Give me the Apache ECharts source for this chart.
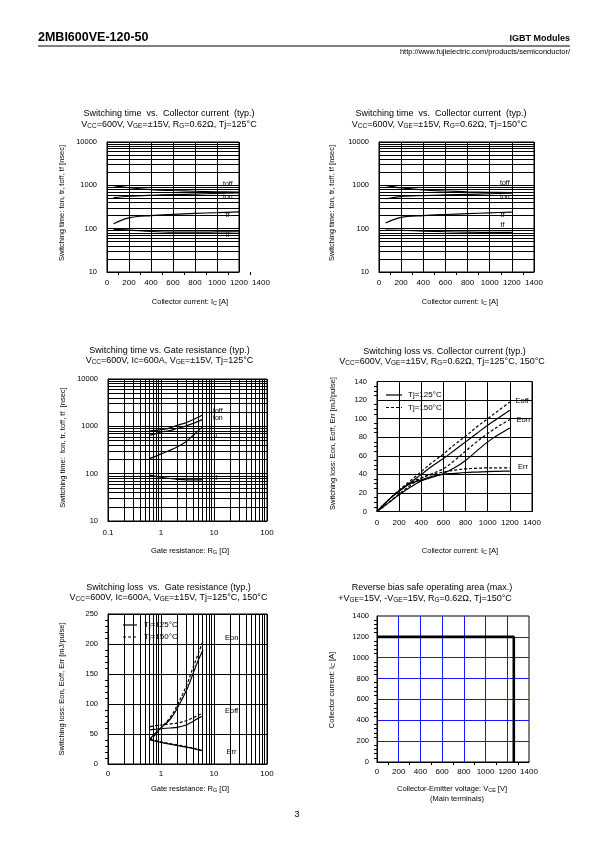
<!DOCTYPE html>
<html><head><meta charset="utf-8">
<script src="https://cdn.jsdelivr.net/npm/echarts@6/dist/echarts.min.js"></script>
<style>html,body{margin:0;padding:0;background:#fff}#c{width:595px;height:842px}</style>
</head><body><div id="c"></div>
<script>
// ---------- data ----------
// Switching time vs collector current
const icTime = [60, 200, 400, 600, 800, 1000, 1200];
const toff125 = [980, 880, 800, 760, 730, 710, 700];
const ton125 = [520, 560, 590, 610, 630, 650, 670];
const tr125 = [130, 178, 200, 214, 226, 234, 245];
const tf125 = [96, 93, 86, 83, 83, 84, 85];
const toff150 = [1000, 870, 780, 740, 710, 690, 680];
const ton150 = [490, 550, 580, 600, 620, 640, 660];
const tr150 = [135, 182, 200, 212, 222, 232, 242];
const tf150 = [93, 92, 88, 85, 83, 82, 82];
// Switching time vs gate resistance
const rgTime = [0.62, 0.8, 1, 1.5, 2, 3, 4, 5, 6.2];
const toffRg = [800, 820, 850, 930, 1050, 1200, 1380, 1550, 1750];
const tonRg = [650, 700, 760, 810, 900, 1020, 1150, 1270, 1400];
const trRg = [210, 235, 262, 315, 365, 480, 640, 800, 1000];
const tfRg = [93, 88, 84, 79, 76, 74, 74, 74, 75];
// Switching loss vs collector current
const icLoss = [0, 100, 200, 300, 400, 500, 600, 700, 800, 900, 1000, 1100, 1200];
const eoff125 = [0, 12, 22, 31, 40, 49, 57, 66, 75, 84, 93, 101, 109];
const eoff150 = [0, 12, 23, 33, 43, 53, 62, 72, 81, 91, 100, 109, 118];
const eon125 = [0, 9, 18, 26, 33, 37, 41, 47, 55, 65, 75, 83, 90];
const eon150 = [0, 9, 19, 28, 36, 41, 46, 55, 65, 75, 84, 92, 99];
const err125 = [0, 12, 22, 30, 34, 38, 40, 41, 42, 42.5, 43, 43.3, 43.5];
const err150 = [0, 12, 23, 31, 36, 40, 42.5, 44.5, 46, 46.5, 47, 47, 47];
// Switching loss vs gate resistance
const rgLoss = [0.62, 0.8, 1, 1.5, 2, 3, 4, 5, 6.2];
const eonRg125 = [42, 52, 60, 75, 92, 122, 150, 172, 190];
const eonRg150 = [40, 50, 60, 78, 97, 130, 160, 183, 205];
const eoffRg125 = [57, 58, 59, 60, 61, 65, 71, 76, 80];
const eoffRg150 = [62, 64, 65, 67, 68, 72, 77, 81, 85];
const errRg125 = [40, 38, 36, 33, 31, 28, 26, 24, 22];
const errRg150 = [41, 39, 37, 34, 32, 29, 26.5, 24, 22];
// RBSOA
const rbsoaV = [0, 1260, 1260];
const rbsoaI = [1200, 1200, 0];
// log minor grid values
const minorTime = [20,30,40,50,60,70,80,90,200,300,400,500,600,700,800,900,2000,3000,4000,5000,6000,7000,8000,9000];
const minorRg = [0.2,0.3,0.4,0.5,0.6,0.7,0.8,0.9,2,3,4,5,6,7,8,9,20,30,40,50,60,70,80,90];

// ---------- helpers ----------
const FONT = '"Liberation Sans", Arial, Helvetica, sans-serif';
const plain = v => String(v);
const pts = (xs, ys) => xs.map((x, i) => [x, ys[i]]);
function line(xi, xs, ys, dashed, extra) {
  return Object.assign({
    type: 'line', xAxisIndex: xi, yAxisIndex: xi, data: pts(xs, ys),
    showSymbol: false, symbol: 'none', smooth: 0.35, silent: true, animation: false,
    lineStyle: { color: '#000', width: 1.2, type: dashed ? [3, 2] : 'solid' }
  }, extra || {});
}
function minorLines(key, vals) {
  return { silent: true, symbol: 'none', animation: false, label: { show: false },
    lineStyle: { color: '#000', width: 1, type: 'solid' },
    data: vals.map(v => ({ [key]: v })) };
}
const subRich = (fs) => ({ s: { fontSize: fs * 0.72, fontFamily: FONT, fill: '#000', verticalAlign: 'bottom' } });
function txt(x, y, text, fs, opt) {
  opt = opt || {};
  return { type: 'text', x: x, y: y, rotation: opt.rot || 0, silent: true,
    style: { text: text, fontSize: fs, fontFamily: FONT, fontWeight: opt.bold ? 'bold' : 'normal',
      fill: '#000', align: opt.align || 'center', verticalAlign: 'middle', rich: subRich(fs) } };
}
function seg(x1, y1, x2, y2, dashed, w) {
  return { type: 'line', silent: true, shape: { x1, y1, x2, y2 },
    style: { stroke: '#000', lineWidth: w || 1, lineDash: dashed ? [3, 2] : null } };
}
const labelX = { fontSize: 8, fontFamily: FONT, color: '#000', formatter: plain };
const labelY = { fontSize: 7.5, fontFamily: FONT, color: '#000', formatter: plain };
const blackSplit = { show: true, lineStyle: { color: '#000', width: 1 } };
const axLine = { show: true, lineStyle: { color: '#000', width: 1 } };

function valX(gi, max, extra) {
  return Object.assign({ type: 'value', gridIndex: gi, min: 0, max: max, interval: 200,
    axisLine: axLine, axisTick: { show: false },
    axisLabel: Object.assign({}, labelX, { margin: 7 }), splitLine: blackSplit }, extra || {});
}
function logAx(gi, min, max, isX, extra) {
  return Object.assign({ type: 'log', logBase: 10, gridIndex: gi, min: min, max: max,
    axisLine: axLine, axisTick: { show: false },
    axisLabel: Object.assign({}, isX ? labelX : labelY, { margin: isX ? 7 : 10 }), splitLine: blackSplit }, extra || {});
}
const gridBox = { show: true, borderColor: '#000', borderWidth: 1, backgroundColor: 'transparent' };

const option = {
  animation: false,
  textStyle: { fontFamily: FONT },
  grid: [
    { left: 107, top: 142, width: 154, height: 130 },                 // 0 chart1 label axis
    Object.assign({ left: 107, top: 142, width: 132, height: 130 }, gridBox), // 1 chart1 box
    Object.assign({ left: 379, top: 142, width: 155, height: 130 }, gridBox), // 2 chart2
    Object.assign({ left: 108, top: 379, width: 159, height: 142 }, gridBox), // 3 chart3
    Object.assign({ left: 377, top: 381.5, width: 155, height: 130 }, gridBox), // 4 chart4
    Object.assign({ left: 108, top: 614, width: 159, height: 150 }, gridBox), // 5 chart5
    Object.assign({ left: 377, top: 616, width: 152, height: 146 }, gridBox)  // 6 chart6
  ],
  xAxis: [
    { type: 'value', gridIndex: 0, min: 0, max: 1400, interval: 200,
      axisLine: { show: false }, axisTick: { show: false }, splitLine: { show: false },
      minorTick: { show: true, splitNumber: 2, length: 3, lineStyle: { color: '#000' } },
      axisLabel: Object.assign({}, labelX, { margin: 7 }) },
    valX(1, 1200, { axisLabel: { show: false } }),
    valX(2, 1400, { minorTick: { show: true, splitNumber: 2, length: 3, lineStyle: { color: '#000' } } }),
    logAx(3, 0.1, 100, true, { axisLabel: Object.assign({}, labelX, { margin: 8 }) }),
    valX(4, 1400),
    logAx(5, 0.1, 100, true, { axisLabel: Object.assign({}, labelX, { margin: 6, formatter: v => (Math.abs(v - 0.1) < 1e-9 ? '0' : String(v)) }) }),
    valX(6, 1400, { splitLine: { show: true, showMinLine: false, showMaxLine: false, lineStyle: { color: '#1515ff', width: 1 } },
      axisLabel: Object.assign({}, labelX, { margin: 6 }),
      minorTick: { show: true, splitNumber: 2, length: 3, lineStyle: { color: '#000' } } })
  ],
  yAxis: [
    { type: 'value', gridIndex: 0, min: 0, max: 1, show: false },
    logAx(1, 10, 10000, false),
    logAx(2, 10, 10000, false),
    logAx(3, 10, 10000, false),
    { type: 'value', gridIndex: 4, min: 0, max: 140, interval: 20, axisLine: axLine, axisTick: { show: false },
      axisLabel: Object.assign({}, labelY, { margin: 10 }), splitLine: blackSplit,
      minorTick: { show: true, splitNumber: 4, length: 3, lineStyle: { color: '#000' } } },
    { type: 'value', gridIndex: 5, min: 0, max: 250, interval: 50, axisLine: axLine, axisTick: { show: false },
      axisLabel: Object.assign({}, labelY, { margin: 10 }), splitLine: blackSplit,
      minorTick: { show: true, splitNumber: 5, length: 3, lineStyle: { color: '#000' } } },
    { type: 'value', gridIndex: 6, min: 0, max: 1400, interval: 200, axisLine: axLine, axisTick: { show: false },
      axisLabel: Object.assign({}, labelY, { margin: 8 }),
      splitLine: { show: true, showMinLine: false, showMaxLine: false, lineStyle: { color: '#1515ff', width: 1 } },
      minorTick: { show: true, splitNumber: 5, length: 3, lineStyle: { color: '#000' } } }
  ],
  series: [
    // chart 1
    line(1, icTime, toff125, false, { markLine: minorLines('yAxis', minorTime) }),
    line(1, icTime, ton125, false),
    line(1, icTime, tr125, false),
    line(1, icTime, tf125, false),
    // chart 2
    line(2, icTime, toff150, false, { markLine: minorLines('yAxis', minorTime) }),
    line(2, icTime, ton150, false),
    line(2, icTime, tr150, false),
    line(2, icTime, tf150, false),
    // chart 3
    line(3, rgTime, toffRg, false, { markLine: minorLines('yAxis', minorTime) }),
    line(3, rgTime, tonRg, false, { markLine: minorLines('xAxis', minorRg) }),
    line(3, rgTime, trRg, false),
    line(3, rgTime, tfRg, false),
    // chart 4
    line(4, icLoss, eoff125, false),
    line(4, icLoss, eoff150, true),
    line(4, icLoss, eon125, false),
    line(4, icLoss, eon150, true),
    line(4, icLoss, err125, false),
    line(4, icLoss, err150, true),
    // chart 5
    line(5, rgLoss, eonRg125, false, { markLine: minorLines('xAxis', minorRg) }),
    line(5, rgLoss, eonRg150, true),
    line(5, rgLoss, eoffRg125, false),
    line(5, rgLoss, eoffRg150, true),
    line(5, rgLoss, errRg125, false),
    line(5, rgLoss, errRg150, true),
    // chart 6
    line(6, rbsoaV, rbsoaI, false, { smooth: false, lineStyle: { color: '#000', width: 2.6 } })
  ],
  graphic: [
    // header
    txt(38, 38, '2MBI600VE-120-50', 12.5, { bold: true, align: 'left' }),
    txt(570, 39, 'IGBT Modules', 9, { bold: true, align: 'right' }),
    seg(38, 46, 570, 46, false, 1),
    txt(570, 52, 'http://www.fujielectric.com/products/semiconductor/', 7.5, { align: 'right' }),
    // chart1 titles
    txt(169, 114, 'Switching time  vs.  Collector current  (typ.)', 9),
    txt(169, 124.5, 'V{s|CC}=600V, V{s|GE}=±15V, R{s|G}=0.62Ω, Tj=125°C', 9),
    txt(62, 203, 'Switching time: ton, tr, toff, tf [nsec]', 7.5, { rot: Math.PI / 2 }),
    txt(190, 302, 'Collector current: I{s|C} [A]', 7.5),
    txt(223, 184, 'toff', 7, { align: 'left' }),
    txt(223, 197.5, 'ton', 7, { align: 'left' }),
    txt(225.5, 215, 'tr', 7, { align: 'left' }),
    txt(225.5, 235, 'tf', 7, { align: 'left' }),
    // chart2
    txt(441, 114, 'Switching time  vs.  Collector current  (typ.)', 9),
    txt(439.5, 124.5, 'V{s|CC}=600V, V{s|GE}=±15V, R{s|G}=0.62Ω, Tj=150°C', 9),
    txt(332, 203, 'Switching time: ton, tr, toff, tf [nsec]', 7.5, { rot: Math.PI / 2 }),
    txt(460, 302, 'Collector current: I{s|C} [A]', 7.5),
    txt(500, 183.5, 'toff', 7, { align: 'left' }),
    txt(500, 197.5, 'ton', 7, { align: 'left' }),
    txt(500.5, 215, 'tr', 7, { align: 'left' }),
    txt(500.5, 225.5, 'tf', 7, { align: 'left' }),
    // chart3
    txt(169.5, 351, 'Switching time vs. Gate resistance (typ.)', 9),
    txt(169.5, 361, 'V{s|CC}=600V, Ic=600A, V{s|GE}=±15V, Tj=125°C', 9),
    txt(62.5, 447.5, 'Switching time:  ton, tr, toff, tf  [nsec]', 7.5, { rot: Math.PI / 2 }),
    txt(190, 551, 'Gate resistance: R{s|G} [Ω]', 7.5),
    txt(213, 411.5, 'toff', 7, { align: 'left' }),
    txt(213, 418.5, 'ton', 7, { align: 'left' }),
    txt(213.5, 435, 'tr', 7, { align: 'left' }),
    txt(213.5, 478.5, 'tf', 7, { align: 'left' }),
    // chart4
    txt(444.5, 351.5, 'Switching loss vs. Collector current (typ.)', 9),
    txt(442, 361.5, 'V{s|CC}=600V, V{s|GE}=±15V, R{s|G}=0.62Ω, Tj=125°C, 150°C', 9),
    txt(332.5, 443.5, 'Switching loss: Eon, Eoff, Err [mJ/pulse]', 7.5, { rot: Math.PI / 2 }),
    txt(460, 551, 'Collector current: I{s|C} [A]', 7.5),
    seg(386, 395, 402, 395, false, 1.2),
    txt(408, 395, 'Tj=125°C', 8, { align: 'left' }),
    seg(386, 407.5, 402, 407.5, true, 1.2),
    txt(408, 407.5, 'Tj=150°C', 8, { align: 'left' }),
    txt(515.5, 400.5, 'Eoff', 7.5, { align: 'left' }),
    txt(516.5, 420, 'Eon', 7.5, { align: 'left' }),
    txt(518, 466.5, 'Err', 7.5, { align: 'left' }),
    // chart5
    txt(168.5, 587.5, 'Switching loss  vs.  Gate resistance (typ.)', 9),
    txt(168.5, 598, 'V{s|CC}=600V, Ic=600A, V{s|GE}=±15V, Tj=125°C, 150°C', 9),
    txt(62, 689, 'Switching loss: Eon, Eoff, Err [mJ/pulse]', 7.5, { rot: Math.PI / 2 }),
    txt(190, 789, 'Gate resistance: R{s|G} [Ω]', 7.5),
    seg(123, 625, 137, 625, false, 1.2),
    txt(144, 625, 'Tj=125°C', 8, { align: 'left' }),
    seg(123, 637, 137, 637, true, 1.2),
    txt(144, 637, 'Tj=150°C', 8, { align: 'left' }),
    txt(225, 637.5, 'Eon', 7.5, { align: 'left' }),
    txt(225, 711, 'Eoff', 7.5, { align: 'left' }),
    txt(226.5, 751.5, 'Err', 7.5, { align: 'left' }),
    // chart6
    txt(432, 588, 'Reverse bias safe operating area (max.)', 9),
    txt(425, 599, '+V{s|GE}=15V, -V{s|GE}=15V, R{s|G}=0.62Ω, Tj=150°C', 9),
    txt(332, 690, 'Collector current: I{s|C} [A]', 7.5, { rot: Math.PI / 2 }),
    txt(452, 789, 'Collector-Emitter voltage: V{s|CE} [V]', 7.5),
    txt(457, 799, '(Main terminals)', 7.5),
    // page number
    txt(297, 815, '3', 9)
  ]
};
const chart = echarts.init(document.getElementById('c'), null, { renderer: 'canvas' });
chart.setOption(option);
</script>
</body></html>
